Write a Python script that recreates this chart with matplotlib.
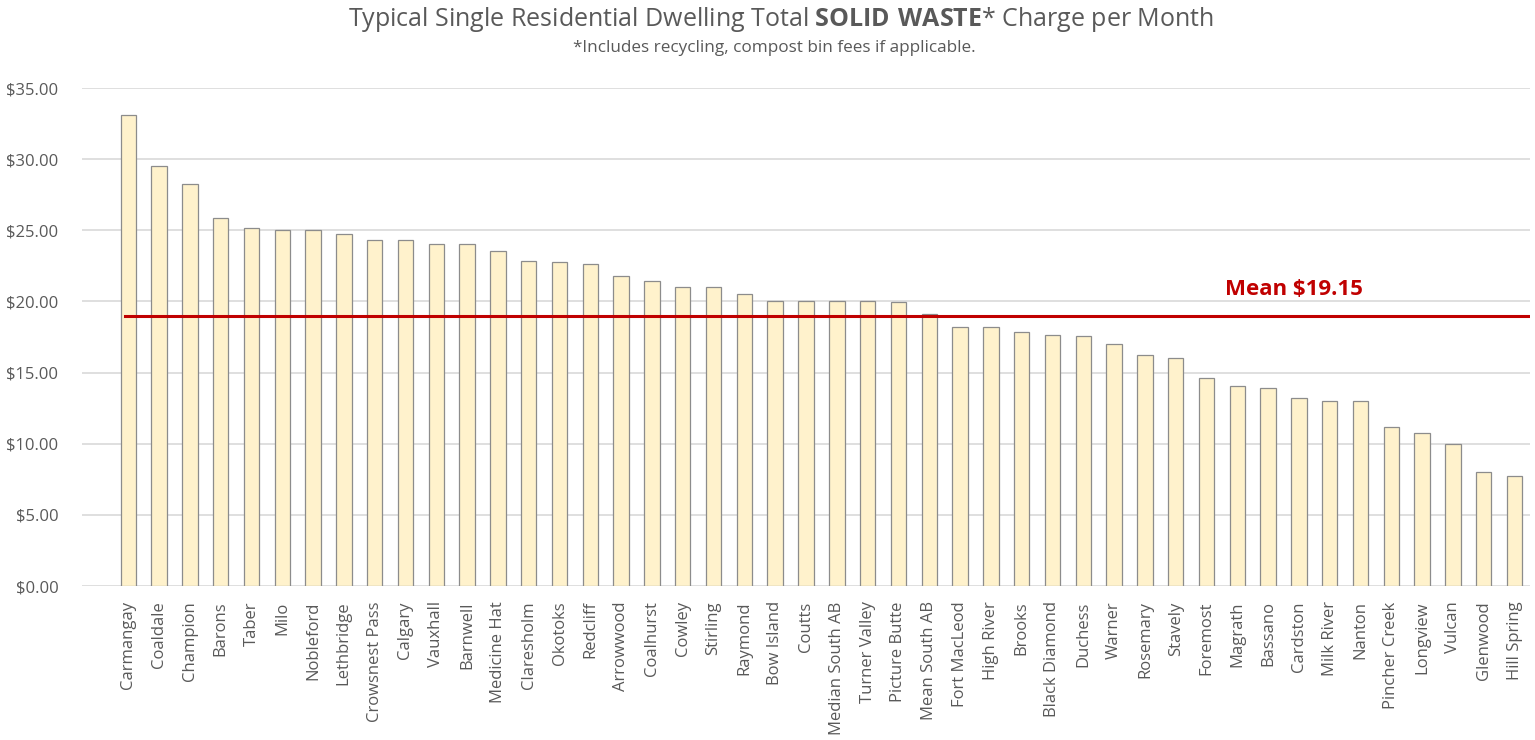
import matplotlib
matplotlib.use("Agg")
import matplotlib.pyplot as plt
import numpy as np

plt.rcParams['font.family'] = ['Open Sans', 'DejaVu Sans']
plt.rcParams['mathtext.fontset'] = 'custom'
plt.rcParams['mathtext.bf'] = 'Open Sans:bold'
plt.rcParams['mathtext.rm'] = 'Open Sans'

# monthly solid waste charge per town
towns = ['Carmangay', 'Coaldale', 'Champion', 'Barons', 'Taber', 'Milo', 'Nobleford',
         'Lethbridge', 'Crowsnest Pass', 'Calgary', 'Vauxhall', 'Barnwell', 'Medicine Hat',
         'Claresholm', 'Okotoks', 'Redcliff', 'Arrowwood', 'Coalhurst', 'Cowley', 'Stirling',
         'Raymond', 'Bow Island', 'Coutts', 'Median South AB', 'Turner Valley', 'Picture Butte',
         'Mean South AB', 'Fort MacLeod', 'High River', 'Brooks', 'Black Diamond', 'Duchess',
         'Warner', 'Rosemary', 'Stavely', 'Foremost', 'Magrath', 'Bassano', 'Cardston',
         'Milk River', 'Nanton', 'Pincher Creek', 'Longview', 'Vulcan', 'Glenwood', 'Hill Spring']
charge = [33.07, 29.50, 28.27, 25.85, 25.15, 25.00, 25.00,
          24.73, 24.33, 24.31, 24.07, 24.03, 23.56,
          22.83, 22.76, 22.62, 21.78, 21.42, 21.02, 21.02,
          20.53, 20.00, 20.00, 20.00, 20.00, 19.95,
          19.12, 18.20, 18.18, 17.82, 17.61, 17.59,
          17.00, 16.25, 16.00, 14.59, 14.03, 13.91, 13.18,
          13.02, 13.00, 11.14, 10.77, 10.00, 8.02, 7.76]
mean_line = 18.95
mean_label = 'Mean $19.15'
yticks = [0, 5, 10, 15, 20, 25, 30, 35]

grey_txt = '#595959'

fig = plt.figure(figsize=(15.35, 7.4), dpi=100)
ax = fig.add_axes([82/1535, 1-586/740, 1448/1535, (586-88)/740])

x = np.arange(len(towns))
ax.bar(x, charge, width=0.5, color='#FFF2CC', edgecolor='#8C8C8C', linewidth=0.9, zorder=2)

# mean line (starts at first bar, runs off the right edge)
ax.plot([-0.1, 46], [mean_line, mean_line], color='#C00000', lw=2.2, zorder=3, clip_on=True)
ax.text(37.85, mean_line + 1.15, mean_label, color='#C00000', fontsize=16, fontweight='bold',
        ha='center', va='bottom')

ax.set_xlim(-1.5, 45.5)
ax.set_ylim(0, 35)
ax.set_yticks(yticks)
ax.set_yticklabels(['${:.2f}'.format(v) for v in yticks])
ax.set_xticks(x)
ax.set_xticklabels(towns, rotation=90)
ax.tick_params(axis='y', length=0, pad=17, labelsize=12, labelcolor=grey_txt)
ax.tick_params(axis='x', length=0, pad=11, labelsize=12, labelcolor=grey_txt)
ax.grid(axis='y', color='#D9D9D9', lw=1.2, zorder=0)
ax.set_axisbelow(True)
for s in ax.spines.values():
    s.set_visible(False)

# title with bold part
fig.text(781/1535, 1-20/740, 'Typical Single Residential Dwelling Total $\\mathbf{SOLID\\ WASTE}$* Charge per Month',
         ha='center', va='center', fontsize=18, color=grey_txt)
fig.text(774/1535, 1-48/740, '*Includes recycling, compost bin fees if applicable.',
         ha='center', va='center', fontsize=12.3, color=grey_txt)

fig.savefig('out.png', dpi=100)
